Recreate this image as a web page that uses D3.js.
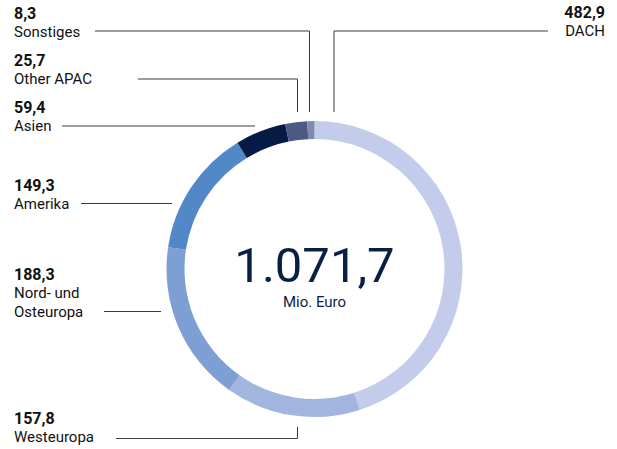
<!DOCTYPE html>
<html>
<head>
<meta charset="utf-8">
<script src="https://cdn.jsdelivr.net/npm/d3@7"></script>
<style>
  html, body { margin: 0; padding: 0; background: #fff; }
  svg { display: block; font-family: Roboto, "Noto Sans", sans-serif; }
</style>
</head>
<body>
<div id="chart"></div>
<script>
(function () {
    "use strict";

    // ── Data ─────────────────────────────────────
    const regions = ["DACH", "Westeuropa", "Nord- und Osteuropa", "Amerika", "Asien", "Other APAC", "Sonstiges"];
    const revenue = [482.9, 157.8, 188.3, 149.3, 59.4, 25.7, 8.3];
    const totalLabel = "1.071,7";
    const unitLabel = "Mio. Euro";

    const colors = ["#c3cdeb", "#a2b5df", "#7e9fd4", "#5189c8", "#051b45", "#4e5884", "#8089b1"];

    // label layout: text anchor point + leader line polyline
    const layout = [
        { x: 605, y: 18, anchor: "end", lines: ["DACH"], path: [[548, 31], [334, 31], [334, 112]] },
        { x: 14, y: 424, anchor: "start", lines: ["Westeuropa"], path: [[116, 438.5], [297.5, 438.5], [297.5, 427]] },
        { x: 14, y: 280, anchor: "start", lines: ["Nord- und", "Osteuropa"], path: [[104, 311.5], [161, 311.5]] },
        { x: 14, y: 191, anchor: "start", lines: ["Amerika"], path: [[81, 203.5], [172, 203.5]] },
        { x: 14, y: 113, anchor: "start", lines: ["Asien"], path: [[62, 126], [255, 126]] },
        { x: 14, y: 66, anchor: "start", lines: ["Other APAC"], path: [[138, 79], [297.5, 79], [297.5, 112]] },
        { x: 14, y: 19, anchor: "start", lines: ["Sonstiges"], path: [[95, 31], [309.5, 31], [309.5, 112]] },
    ];

    const W = 617, H = 449;
    const cx = 314.5, cy = 269;
    const outerR = 148, innerR = 130;

    const fmt = v => d3.format(".1f")(v).replace(".", ",");

    const svg = d3.select("#chart").append("svg")
        .attr("width", W).attr("height", H);

    // ── Donut ────────────────────────────────────
    const pie = d3.pie().sort(null).value(d => d)(revenue);
    const arc = d3.arc().innerRadius(innerR).outerRadius(outerR);

    svg.append("g")
        .attr("transform", `translate(${cx},${cy})`)
        .selectAll("path")
        .data(pie)
        .join("path")
        .attr("d", arc)
        .attr("fill", (d, i) => colors[i]);

    // ── Leader lines ─────────────────────────────
    const line = d3.line();
    svg.append("g")
        .selectAll("path")
        .data(layout)
        .join("path")
        .attr("d", d => line(d.path))
        .attr("fill", "none")
        .attr("stroke", "#3a3a3a")
        .attr("stroke-width", 1);

    // ── Labels ───────────────────────────────────
    const labels = svg.append("g")
        .selectAll("g")
        .data(regions)
        .join("g");

    labels.append("text")
        .attr("x", (d, i) => layout[i].x)
        .attr("y", (d, i) => layout[i].y)
        .attr("text-anchor", (d, i) => layout[i].anchor)
        .attr("font-size", 16)
        .attr("font-weight", 700)
        .attr("fill", "#111")
        .text((d, i) => fmt(revenue[i]));

    labels.each(function (d, i) {
        const g = d3.select(this);
        layout[i].lines.forEach((t, k) => {
            g.append("text")
                .attr("x", layout[i].x)
                .attr("y", layout[i].y + 18 + k * 18.5)
                .attr("text-anchor", layout[i].anchor)
                .attr("font-size", 15)
                .attr("fill", "#111")
                .text(t);
        });
    });

    // ── Center total ─────────────────────────────
    svg.append("text")
        .attr("x", cx).attr("y", 282)
        .attr("text-anchor", "middle")
        .attr("font-size", 49)
        .attr("fill", "#0a1f44")
        .text(totalLabel);

    svg.append("text")
        .attr("x", cx).attr("y", 307)
        .attr("text-anchor", "middle")
        .attr("font-size", 15)
        .attr("fill", "#0a1f44")
        .text(unitLabel);
})();
</script>
</body>
</html>
